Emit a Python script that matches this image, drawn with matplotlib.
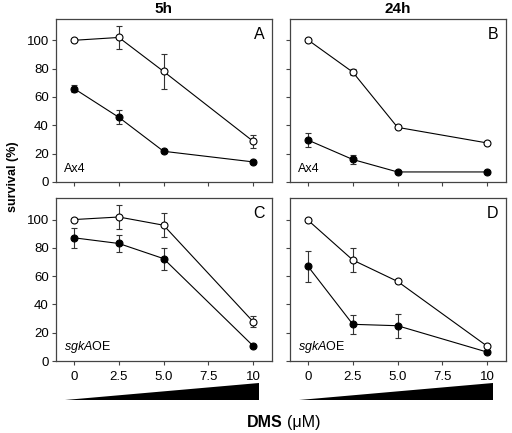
import numpy as np
import matplotlib.pyplot as plt
from matplotlib.patches import Polygon

plt.rcParams['font.family'] = 'Liberation Sans'
plt.rcParams['mathtext.fontset'] = 'custom'
plt.rcParams['mathtext.it'] = 'Liberation Sans:italic'
plt.rcParams['mathtext.rm'] = 'Liberation Sans'

dms = [0, 2.5, 5.0, 10]
xticks = [0, 2.5, 5.0, 7.5, 10]
xticklabels = ['0', '2.5', '5.0', '7.5', '10']

# A: 5h Ax4
a_open = [100, 102, 78, 28.7]
a_open_err = [0.8, 8, 12.6, 4.7]
a_fill = [65.9, 45.6, 21.6, 14.1]
a_fill_err = [2.3, 5, 1, 1]

# B: 24h Ax4
b_open = [100.2, 77.5, 38.5, 27.5]
b_open_err = [0.8, 2, 0.8, 0.8]
b_fill = [29.5, 15.8, 7, 7]
b_fill_err = [5.2, 3.3, 0.8, 0.8]

# C: 5h sgkAOE
c_open = [100, 101.8, 96, 27.9]
c_open_err = [0.8, 8.5, 8.3, 4]
c_fill = [87.1, 83.1, 72.4, 10.8]
c_fill_err = [7, 6.2, 7.8, 0.8]

# D: 24h sgkAOE
d_open = [99.5, 71.4, 56.3, 10.6]
d_open_err = [0.8, 8.4, 0.8, 0.8]
d_fill = [66.9, 26, 25, 6.4]
d_fill_err = [10.9, 6.5, 8.6, 0.8]

fig = plt.figure(figsize=(5.12, 4.33), dpi=100)

lefts = [0.109, 0.566]
w = 0.422
bottoms = [0.580, 0.166]
h = 0.376

panels = [
    (0, 0, a_open, a_open_err, a_fill, a_fill_err, 'A', 'Ax4'),
    (1, 0, b_open, b_open_err, b_fill, b_fill_err, 'B', 'Ax4'),
    (0, 1, c_open, c_open_err, c_fill, c_fill_err, 'C', r'$\mathit{sgkA}$OE'),
    (1, 1, d_open, d_open_err, d_fill, d_fill_err, 'D', r'$\mathit{sgkA}$OE'),
]

spine_col = '#444444'
for col, row, yo, yoe, yf, yfe, letter, strain in panels:
    ax = fig.add_axes([lefts[col], bottoms[row], w, h])
    ax.errorbar(dms, yf, yerr=yfe, color='black', lw=0.8, marker='o', ms=5,
                mfc='black', mec='black', mew=0.8, capsize=2.2, elinewidth=0.8,
                ecolor='#333333', capthick=0.8, zorder=3)
    ax.errorbar(dms, yo, yerr=yoe, color='black', lw=0.8, marker='o', ms=5,
                mfc='white', mec='black', mew=0.8, capsize=2.2, elinewidth=0.8,
                ecolor='#333333', capthick=0.8, zorder=3)
    ax.set_xlim(-1.02, 11.05)
    ax.set_ylim(0, 115)
    ax.set_yticks([0, 20, 40, 60, 80, 100])
    ax.set_xticks(xticks)
    for s in ax.spines.values():
        s.set_color(spine_col)
        s.set_linewidth(0.9)
    ax.tick_params(direction='out', length=3, width=0.8, color=spine_col,
                   labelsize=9.5, pad=2)
    if col == 1:
        ax.set_yticklabels([])
    if row == 0:
        ax.set_xticklabels([])
    else:
        ax.set_xticklabels(xticklabels)
        ax.tick_params(axis='x', pad=4)
    ax.text(0.965, 0.95, letter, transform=ax.transAxes, ha='right', va='top',
            fontsize=11.5)
    ax.text(0.04, 0.04, strain, transform=ax.transAxes, ha='left', va='bottom',
            fontsize=9)
    if row == 0:
        ax.set_title(['5h', '24h'][col], fontsize=11, fontweight='bold', pad=4)

    if row == 1:
        wax = fig.add_axes([lefts[col], 0.076, w, 0.040])
        wax.set_xlim(-1.02, 11.05)
        wax.set_ylim(0, 1)
        wax.add_patch(Polygon([(-0.5, 0), (10.35, 0), (10.35, 1)],
                              closed=True, color='black', lw=0))
        wax.axis('off')

fig.text(0.025, 0.593, 'survival (%)', rotation=90, ha='center', va='center',
         fontsize=9, fontweight='bold')
fig.text(0.552, 0.024, 'DMS', ha='right', va='center', fontsize=11.5,
         fontweight='bold')
fig.text(0.561, 0.024, '(\u03bcM)', ha='left', va='center', fontsize=11.5)

fig.savefig('out.png', dpi=100)
